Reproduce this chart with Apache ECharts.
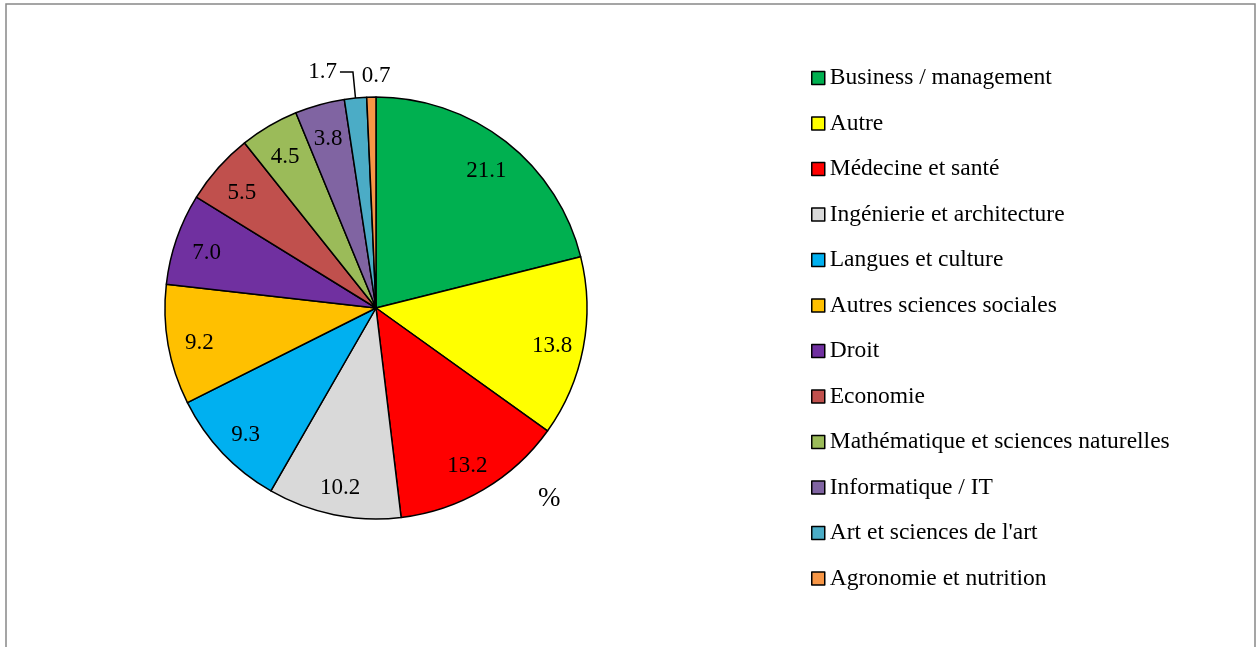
<!DOCTYPE html>
<html>
<head>
<meta charset="utf-8">
<script src="https://cdn.jsdelivr.net/npm/echarts@6/dist/echarts.min.js"></script>
<style>
  html, body { margin: 0; padding: 0; background: #fff; }
  #main { width: 1258px; height: 647px; }
</style>
</head>
<body>
<div id="main"></div>
<script>
var categories = ['Business / management', 'Autre', 'Médecine et santé', 'Ingénierie et architecture',
  'Langues et culture', 'Autres sciences sociales', 'Droit', 'Economie',
  'Mathématique et sciences naturelles', 'Informatique / IT', "Art et sciences de l'art", 'Agronomie et nutrition'];
var shares = [21.1, 13.8, 13.2, 10.2, 9.3, 9.2, 7.0, 5.5, 4.5, 3.8, 1.7, 0.7];
var colors = ['#00B050', '#FFFF00', '#FF0000', '#D9D9D9', '#00B0F0', '#FFC000',
  '#7030A0', '#C0504D', '#9BBB59', '#8064A2', '#4BACC6', '#F79646'];

var cx = 376, cy = 308, R = 211;
var font = 'Liberation Serif';

var data = categories.map(function (name, i) {
  var d = { name: name, value: shares[i], itemStyle: { color: colors[i] } };
  if (i === 10) {
    d.label = { position: 'outside', distanceToLabelLine: 3 };
  }
  if (i === 11) {
    d.label = { position: 'outside' };
    d.labelLine = { show: false, length2: 0 };
  }
  return d;
});

var myChart = echarts.init(document.getElementById('main'));
myChart.setOption({
  animation: false,
  backgroundColor: '#fff',
  title: {
    text: '%',
    left: 533,
    top: 480,
    textStyle: { fontFamily: font, fontSize: 27, fontWeight: 'normal', color: '#000' }
  },
  graphic: [{
    type: 'rect',
    shape: { x: 6, y: 4, width: 1249, height: 700 },
    style: { fill: 'none', stroke: '#888', lineWidth: 1.5 },
    silent: true
  }],
  legend: {
    orient: 'vertical',
    left: 806,
    top: 61,
    itemWidth: 13,
    itemHeight: 13,
    itemGap: 21.5,
    icon: 'rect',
    itemStyle: { borderColor: '#000', borderWidth: 1.5 },
    textStyle: { fontFamily: font, fontSize: 23.5, color: '#000', lineHeight: 22 },
    data: categories
  },
  series: [{
    type: 'pie',
    center: [cx, cy],
    radius: R,
    startAngle: 90,
    clockwise: true,
    avoidLabelOverlap: false,
    data: data,
    itemStyle: { borderColor: '#000', borderWidth: 1.5 },
    emphasis: { disabled: true },
    label: {
      show: true,
      position: 'inside',
      formatter: function (p) { return p.value.toFixed(1); },
      fontFamily: font,
      fontSize: 23,
      color: '#000'
    },
    labelLine: {
      show: true,
      length: 26,
      length2: 13,
      smooth: false,
      lineStyle: { color: '#000', width: 1.5 }
    },
    labelLayout: function (p) {
      if (p.dataIndex === 10) return {};
      if (p.dataIndex === 11) return { dx: p.labelRect.width - 4, dy: 5 };
      var r = p.labelRect;
      var lx = r.x + r.width / 2 - cx;
      var ly = r.y + r.height / 2 - cy;
      var d = Math.sqrt(lx * lx + ly * ly);
      var k = 0.85 * R / d;
      return { dx: lx * (k - 1), dy: ly * (k - 1) + 4 };
    }
  }]
});
</script>
</body>
</html>
